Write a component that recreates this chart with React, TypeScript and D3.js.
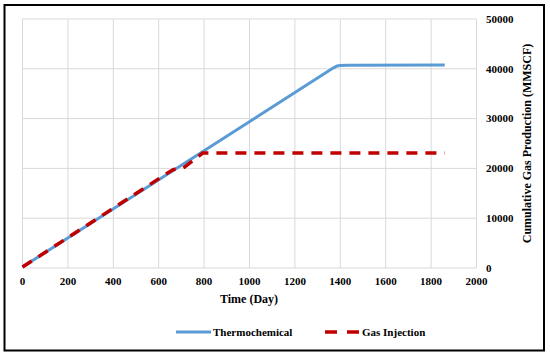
import React from "react";
import * as d3 from "d3";

// values
const thermoDays = [0, 1370, 1385, 1400, 1430, 1860];
const thermoGas = [200, 40200, 40550, 40650, 40700, 40750];

const injectDays = [0, 645, 665, 700, 715, 795, 1860];
const injectGas = [200, 19250, 19800, 19900, 20300, 23100, 23100];

const xTicks = [0, 200, 400, 600, 800, 1000, 1200, 1400, 1600, 1800, 2000];
const yTicks = [0, 10000, 20000, 30000, 40000, 50000];

const W = 550;
const H = 356;
const font = "'Liberation Serif', 'Times New Roman', serif";

const App = () => {
	const x = d3.scaleLinear().domain([0, 2000]).range([22.5, 476.5]);
	const y = d3.scaleLinear().domain([0, 50000]).range([268, 19]);

	const line = d3.line<[number, number]>()
		.x(d => x(d[0]))
		.y(d => y(d[1]))
		.curve(d3.curveLinear);

	const thermo = thermoDays.map((d, i) => [d, thermoGas[i]] as [number, number]);
	const inject = injectDays.map((d, i) => [d, injectGas[i]] as [number, number]);

	return (
		<svg width={W} height={H} style={{ position: "absolute", left: 0, top: 0 }}>
			<rect x={0} y={0} width={W} height={H} fill="#fff" />
			<rect x={4.5} y={5} width={539.5} height={345.5} fill="none" stroke="#000" strokeWidth={2} />

			{/* grid */}
			<g stroke="#d9d9d9" strokeWidth={1}>
				{xTicks.map(t => (
					<line key={"gx" + t} x1={x(t)} x2={x(t)} y1={y(0)} y2={y(50000)} />
				))}
				{yTicks.map(t => (
					<line key={"gy" + t} x1={x(0)} x2={x(2000)} y1={y(t)} y2={y(t)} />
				))}
			</g>

			{/* tick labels */}
			<g fontFamily={font} fontWeight="bold" fontSize={11} fill="#000">
				{xTicks.map(t => (
					<text key={"tx" + t} x={x(t)} y={285} textAnchor="middle">{t}</text>
				))}
				{yTicks.map(t => (
					<text key={"ty" + t} x={486} y={y(t)} dy="0.35em" textAnchor="start">{t}</text>
				))}
			</g>

			{/* series */}
			<path d={line(thermo) || ""} fill="none" stroke="#5B9BD5" strokeWidth={3} strokeLinejoin="round" />
			<path d={line(inject) || ""} fill="none" stroke="#C00000" strokeWidth={3.5} strokeDasharray="11,8" strokeLinejoin="round" />

			{/* axis titles */}
			<text x={249} y={303} textAnchor="middle" fontFamily={font} fontWeight="bold" fontSize={12}>Time (Day)</text>
			<text
				transform={`translate(531, 143.5) rotate(-90)`}
				textAnchor="middle"
				fontFamily={font}
				fontWeight="bold"
				fontSize={12}
			>
				Cumulative Gas Production (MMSCF)
			</text>

			{/* legend */}
			<g fontFamily={font} fontWeight="bold" fontSize={11}>
				<line x1={176} x2={211} y1={332} y2={332} stroke="#5B9BD5" strokeWidth={3} />
				<text x={213} y={335.5}>Thermochemical</text>
				<line x1={325} x2={361} y1={332} y2={332} stroke="#C00000" strokeWidth={3.5} strokeDasharray="12,10" />
				<text x={362} y={335.5}>Gas Injection</text>
			</g>
		</svg>
	);
};

export default App;
